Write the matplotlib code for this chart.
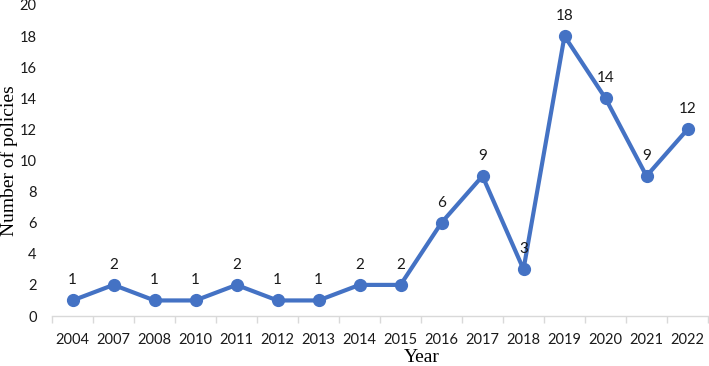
import matplotlib.pyplot as plt
import numpy as np

years = ["2004", "2007", "2008", "2010", "2011", "2012", "2013", "2014",
         "2015", "2016", "2017", "2018", "2019", "2020", "2021", "2022"]
policies = [1, 2, 1, 1, 2, 1, 1, 2, 2, 6, 9, 3, 18, 14, 9, 12]

fig = plt.figure(figsize=(7.09, 3.66), dpi=100)
ax = fig.add_axes([52 / 709, 50 / 366, 656 / 709, 311 / 366])

x = np.arange(len(years))
ax.plot(x, policies, color="#4472C4", linewidth=3.0, marker="o",
        markersize=8.5, solid_capstyle="round", zorder=3)

# data labels above each point
for xi, v in zip(x, policies):
    ax.annotate(str(v), (xi, v), xytext=(0, 14.5), textcoords="offset points",
                ha="center", va="center", fontsize=11, family="Lato",
                color="#1a1a1a")

ax.set_xlim(-0.5, len(years) - 0.5)
ax.set_ylim(0, 20)
ax.set_yticks(np.arange(0, 21, 2))
ax.set_xticks(x)
ax.set_xticklabels(years)
ax.set_xticks(np.arange(-0.5, len(years), 1), minor=True)

for s in ["top", "right", "left"]:
    ax.spines[s].set_visible(False)
ax.spines["bottom"].set_color("#D9D9D9")
ax.spines["bottom"].set_linewidth(1.0)

ax.tick_params(axis="x", which="major", length=0, pad=12)
ax.tick_params(axis="x", which="minor", length=5, color="#D9D9D9", width=1.0)
ax.tick_params(axis="y", length=0, pad=11)
for lab in ax.get_xticklabels() + ax.get_yticklabels():
    lab.set_family("Lato")
    lab.set_fontsize(10.5)
    lab.set_color("#1a1a1a")

ax.set_xlabel("Year", family="Liberation Serif", fontsize=14)
ax.set_ylabel("Number of policies", family="Liberation Serif", fontsize=14)
ax.xaxis.set_label_coords(370 / 656, -41 / 311)
ax.yaxis.set_label_coords(-43 / 656, 0.5)
ax.xaxis.label.set_verticalalignment("center")
ax.yaxis.label.set_verticalalignment("center")

fig.savefig("out.png", dpi=100)
